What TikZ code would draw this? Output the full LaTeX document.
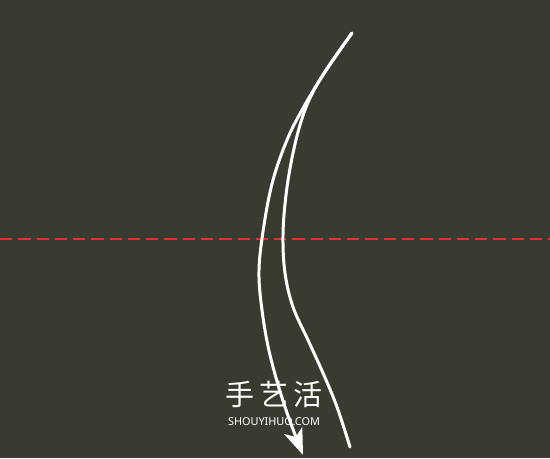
\documentclass[tikz,border=0pt]{standalone}
\usepackage{fontspec}
\setmainfont{Noto Sans}
\newfontfamily\cjk{Noto Sans CJK SC}
\usetikzlibrary{arrows.meta}
\definecolor{board}{HTML}{3A3B30}
\definecolor{foldred}{HTML}{E0303A}
\tikzset{
  foldline/.style={foldred, line width=1.5pt, dash pattern=on 7pt off 3.4pt},
  movearrow/.style={white, line width=1.7pt, line cap=round},
}
\begin{document}
\begin{tikzpicture}[x=0.02cm, y=-0.02cm]
    \fill[board] (0,0) rectangle (550,458); % paper
    \useasboundingbox (0,0) rectangle (550,458);

    \draw[foldline] (0,239) -- (550,239);

    % outer arrow, folding down
    \draw[movearrow, -{Stealth[length=15pt, width=11pt, inset=4pt]}]
        plot[smooth, tension=0.6] coordinates {(352,33) (323,75) (302,110) (287,140)
            (273,180) (264,225) (259,270) (262,310) (270,355) (285,407) (303,455)};
    % inner line
    \draw[movearrow]
        plot[smooth, tension=0.6] coordinates {(352,33) (326,70) (310,98) (300,125)
            (292,158) (286,195) (283,235) (285,273) (293,307) (308,340) (323,373)
            (337,407) (350,447)};

    \node[white, font=\cjk\fontsize{16.5}{17}\selectfont] (logo) at (274,394) {手\,艺\,活};
    \node[white, font=\fontsize{6.2}{7}\selectfont, below=-1pt] (site) at (logo.south) {SHOUYIHUO.COM};
\end{tikzpicture}
\end{document}
